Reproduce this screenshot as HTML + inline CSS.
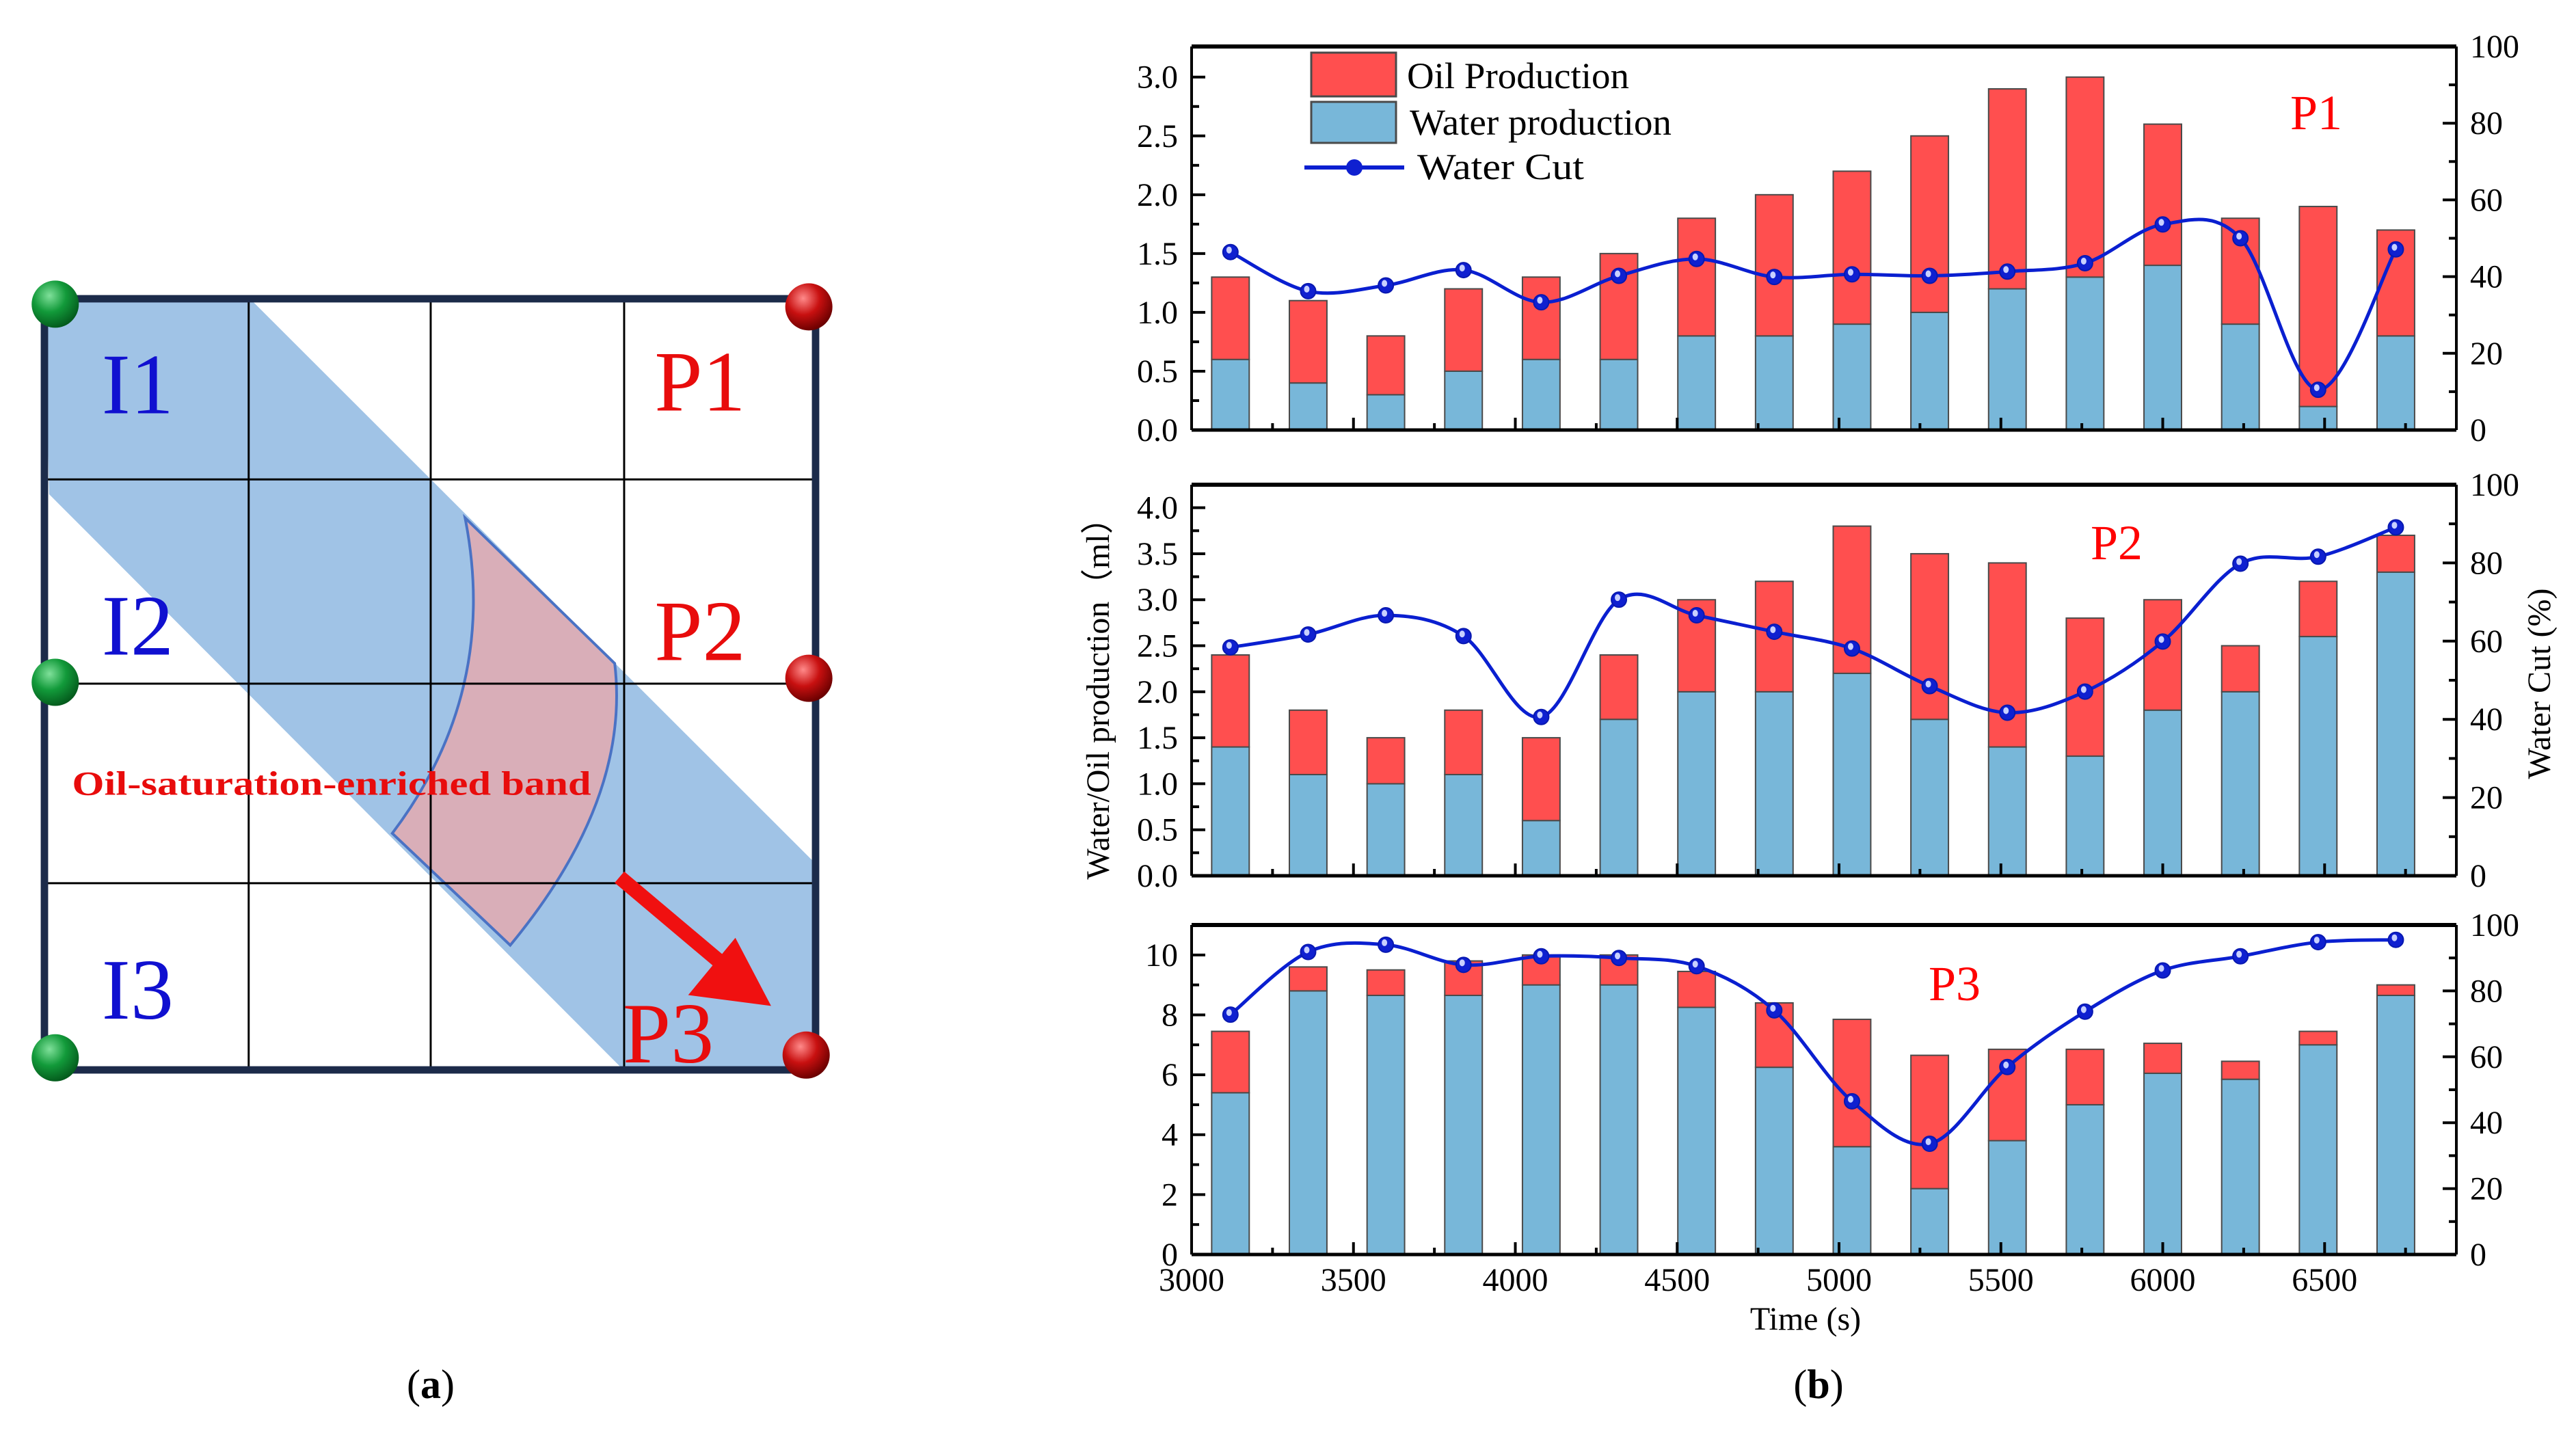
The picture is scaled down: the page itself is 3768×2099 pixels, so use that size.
<!DOCTYPE html>
<html><head><meta charset="utf-8">
<style>
html,body{margin:0;padding:0;background:#fff;}
svg{display:block;font-family:"Liberation Serif",serif;}
</style></head>
<body>
<svg id="fig" width="3768" height="2099" viewBox="0 0 3768 2099" xmlns="http://www.w3.org/2000/svg">
<rect width="3768" height="2099" fill="#fff"/>
<!-- Panel (a) -->
<g transform="translate(65,437) scale(0.986) translate(-65,-437)">
  <polygon points="65,441 374,441 1204,1270 1204,1580 923,1580 72,727" fill="#a0c3e6"/>
  <path d="M689,762 L911,978 Q935,1180 756,1396 L581,1230 Q740,1020 689,762 Z" fill="#d9aeb8" stroke="#4a72c4" stroke-width="4"/>
  <g stroke="#000" stroke-width="3">
    <line x1="368" y1="435" x2="368" y2="1583"/>
    <line x1="638" y1="435" x2="638" y2="1583"/>
    <line x1="925" y1="435" x2="925" y2="1583"/>
    <line x1="65" y1="705" x2="1211" y2="705"/>
    <line x1="65" y1="1008" x2="1211" y2="1008"/>
    <line x1="65" y1="1304" x2="1211" y2="1304"/>
  </g>
  <rect x="65" y="437" width="1144" height="1144" fill="none" stroke="#1c2b4a" stroke-width="11"/>
  <g>
    <line x1="918" y1="1295" x2="1090" y2="1440" stroke="#f01010" stroke-width="22"/>
    <polygon points="1143,1486 1020,1470 1090,1385" fill="#f01010"/>
  </g>
  <defs>
    <radialGradient id="gG" cx="0.38" cy="0.32" r="0.7"><stop offset="0" stop-color="#7fe09a"/><stop offset="0.5" stop-color="#129a3a"/><stop offset="1" stop-color="#045a1c"/></radialGradient>
    <radialGradient id="gR" cx="0.38" cy="0.32" r="0.7"><stop offset="0" stop-color="#ff8a8a"/><stop offset="0.5" stop-color="#c81010"/><stop offset="1" stop-color="#6a0000"/></radialGradient>
  </defs>
  <circle cx="81" cy="445" r="35" fill="url(#gG)"/>
  <circle cx="81" cy="1006" r="35" fill="url(#gG)"/>
  <circle cx="81" cy="1563" r="35" fill="url(#gG)"/>
  <circle cx="1199" cy="449" r="35" fill="url(#gR)"/>
  <circle cx="1199" cy="1000" r="35" fill="url(#gR)"/>
  <circle cx="1195" cy="1559" r="35" fill="url(#gR)"/>
  <g font-size="128">
    <text x="150" y="607" fill="#1010d0">I1</text>
    <text x="150" y="965" fill="#1010d0">I2</text>
    <text x="150" y="1505" fill="#1010d0">I3</text>
    <text x="970" y="603" fill="#e80c0c">P1</text>
    <text x="970" y="973" fill="#e80c0c">P2</text>
    <text x="923" y="1570" fill="#e80c0c">P3</text>
  </g>
  <text x="106" y="1173" font-size="50" font-weight="bold" fill="#e80c0c" textLength="770" lengthAdjust="spacingAndGlyphs">Oil-saturation-enriched band</text>
</g>
<text x="630" y="2045" font-size="60" text-anchor="middle">(<tspan font-weight="bold">a</tspan>)</text>
<text x="2660" y="2045" font-size="60" text-anchor="middle">(<tspan font-weight="bold">b</tspan>)</text>
<g id="chart"></g>
</svg>
<script>
const times = [3120,3360,3600,3840,4080,4320,4560,4800,5040,5280,5520,5760,6000,6240,6480,6720];
const p1Water = [0.6,0.4,0.3,0.5,0.6,0.6,0.8,0.8,0.9,1.0,1.2,1.3,1.4,0.9,0.2,0.8];
const p1Total = [1.3,1.1,0.8,1.2,1.3,1.5,1.8,2.0,2.2,2.5,2.9,3.0,2.6,1.8,1.9,1.7];
const p1Cut = [46.4,36.2,37.7,41.7,33.3,40.2,44.6,39.9,40.6,40.2,41.3,43.5,53.6,50,10.5,47.1];
const p2Water = [1.4,1.1,1.0,1.1,0.6,1.7,2.0,2.0,2.2,1.7,1.4,1.3,1.8,2.0,2.6,3.3];
const p2Total = [2.4,1.8,1.5,1.8,1.5,2.4,3.0,3.2,3.8,3.5,3.4,2.8,3.0,2.5,3.2,3.7];
const p2Cut = [58.4,61.7,66.6,61.3,40.6,70.6,66.6,62.4,58.1,48.5,41.7,47.1,59.9,79.8,81.6,89.1];
const p3Water = [5.4,8.8,8.65,8.65,9.0,9.0,8.25,6.25,3.6,2.2,3.8,5.0,6.05,5.85,7.0,8.65];
const p3Total = [7.45,9.6,9.5,9.8,10.0,10.0,9.45,8.4,7.85,6.65,6.85,6.85,7.05,6.45,7.45,9.0];
const p3Cut = [72.8,91.8,94,87.9,90.5,90,87.5,74.1,46.5,33.6,56.9,73.7,86.2,90.5,94.8,95.5];
const xTickLabels = ["3000","3500","4000","4500","5000","5500","6000","6500"];
const rightTickLabels = ["0","20","40","60","80","100"];
const p1TickLabels = ["0.0","0.5","1.0","1.5","2.0","2.5","3.0"];
const p2TickLabels = ["0.0","0.5","1.0","1.5","2.0","2.5","3.0","3.5","4.0"];
const p3TickLabels = ["0","2","4","6","8","10"];

const NS = "http://www.w3.org/2000/svg";
const root = document.getElementById('chart');
const XL = 1743, XR = 3593, TMIN = 3000, TMAX = 6907;
function xs(t){ return XL + (t - TMIN) / (TMAX - TMIN) * (XR - XL); }
function mk(tag, attrs, parent){
  const e = document.createElementNS(NS, tag);
  for (const k in attrs) e.setAttribute(k, attrs[k]);
  (parent || root).appendChild(e);
  return e;
}
function spline(pts){
  let d = "M" + pts[0][0] + "," + pts[0][1];
  for (let i = 0; i < pts.length - 1; i++){
    const p0 = pts[Math.max(0,i-1)], p1 = pts[i], p2 = pts[i+1], p3 = pts[Math.min(pts.length-1,i+2)];
    const c1x = p1[0] + (p2[0]-p0[0])/6, c1y = p1[1] + (p2[1]-p0[1])/6;
    const c2x = p2[0] - (p3[0]-p1[0])/6, c2y = p2[1] - (p3[1]-p1[1])/6;
    d += " C" + c1x + "," + c1y + " " + c2x + "," + c2y + " " + p2[0] + "," + p2[1];
  }
  return d;
}
function drawDot(g, x, y){
  const c = mk('circle', {cx:x, cy:y, r:11, fill:'#0f20d0', stroke:'#0818b0','stroke-width':2}, g);
  
  
  mk('ellipse', {cx:x-2, cy:y-3, rx:4, ry:5, fill:'#c8d0ff'}, g);
}
const panels = [
  {id:'p1', top:68, bot:629, ymax:3.26, step:0.5, labels:p1TickLabels, water:p1Water, total:p1Total, cut:p1Cut, name:'P1', nx:3350, ny:189},
  {id:'p2', top:709, bot:1281, ymax:4.25, step:0.5, labels:p2TickLabels, water:p2Water, total:p2Total, cut:p2Cut, name:'P2', nx:3058, ny:818},
  {id:'p3', top:1353, bot:1835, ymax:11, step:2, labels:p3TickLabels, water:p3Water, total:p3Total, cut:p3Cut, name:'P3', nx:2821, ny:1463}
];
panels.forEach((P, pi) => {
  const g = mk('g', {});
  
  
  const ys = v => P.bot - v / P.ymax * (P.bot - P.top);
  const yr = v => P.bot - v / 100 * (P.bot - P.top);
  const bw = xs(3116) - xs(3000);
  times.forEach((t, i) => {
    const x = xs(t) - bw/2;
    const wb = mk('rect', {x:x, y:ys(P.water[i]), width:bw, height:P.bot - ys(P.water[i]), fill:'#78b7d9', stroke:'#4a4a4a','stroke-width':2}, g);
    
    
    const ob = mk('rect', {x:x, y:ys(P.total[i]), width:bw, height:ys(P.water[i]) - ys(P.total[i]), fill:'#ff4f4f', stroke:'#4a4a4a','stroke-width':2}, g);
    
    
  });
  mk('line', {x1:XL, y1:P.top, x2:XR, y2:P.top, stroke:'#000','stroke-width':6}, g);
  mk('line', {x1:XL, y1:P.bot, x2:XR, y2:P.bot, stroke:'#000','stroke-width':5}, g);
  mk('line', {x1:XL, y1:P.top, x2:XL, y2:P.bot, stroke:'#000','stroke-width':4}, g);
  mk('line', {x1:XR, y1:P.top, x2:XR, y2:P.bot, stroke:'#000','stroke-width':4}, g);
  P.labels.forEach((lab, k) => {
    const v = k * P.step, y = ys(v);
    mk('line', {x1:XL, y1:y, x2:XL+20, y2:y, stroke:'#000','stroke-width':4}, g);
    const ym = ys(v + P.step/2);
    if (ym > P.top + 5) mk('line', {x1:XL, y1:ym, x2:XL+11, y2:ym, stroke:'#000','stroke-width':4}, g);
    const tx = mk('text', {x:XL-20, y:y+16, 'font-size':48, 'text-anchor':'end'}, g);
    tx.textContent = lab;
    
    
  });
  rightTickLabels.forEach((lab, k) => {
    const v = k * 20, y = yr(v);
    mk('line', {x1:XR, y1:y, x2:XR-20, y2:y, stroke:'#000','stroke-width':4}, g);
    if (v < 100) { const ym = yr(v+10); mk('line', {x1:XR, y1:ym, x2:XR-11, y2:ym, stroke:'#000','stroke-width':4}, g); }
    const tx = mk('text', {x:XR+20, y:y+16, 'font-size':48}, g);
    tx.textContent = lab;
    
    
  });
  for (let t = 3000; t <= 6900; t += 250){
    const major = t % 500 === 0;
    mk('line', {x1:xs(t), y1:P.bot, x2:xs(t), y2:P.bot - (major?18:10), stroke:'#000','stroke-width':4}, g);
  }
  const pts = times.map((t,i) => [xs(t), yr(P.cut[i])]);
  const ln = mk('path', {d:spline(pts), fill:'none', stroke:'#0a1fd0','stroke-width':5}, g);
  
  
  pts.forEach(p => drawDot(g, p[0], p[1]));
  const nm = mk('text', {x:P.nx, y:P.ny, 'font-size':72, fill:'#ff0000'}, g);
  nm.textContent = P.name;
  
  
  if (pi === 2){
    xTickLabels.forEach((lab, k) => {
      const tx = mk('text', {x:xs(3000 + 500*k), y:1888, 'font-size':48, 'text-anchor':'middle'}, g);
      tx.textContent = lab;
      
      
    });
  }
});
</script>
<svg style="position:absolute;left:0;top:0" width="3768" height="2099" viewBox="0 0 3768 2099">
  <g font-family="Liberation Serif, serif" font-size="54">
    <rect x="1918" y="77" width="124" height="64" fill="#ff4f4f" stroke="#4a4a4a" stroke-width="3"/>
    <text x="2058" y="129" textLength="325" lengthAdjust="spacingAndGlyphs">Oil Production</text>
    <rect x="1918" y="149" width="124" height="60" fill="#78b7d9" stroke="#4a4a4a" stroke-width="3"/>
    <text x="2062" y="197" textLength="383" lengthAdjust="spacingAndGlyphs">Water production</text>
    <line x1="1908" y1="245" x2="2054" y2="245" stroke="#0a1fd0" stroke-width="6"/>
    <circle cx="1981" cy="245" r="12" fill="#0f20d0"/>
    <text x="2073" y="262" textLength="244" lengthAdjust="spacingAndGlyphs">Water Cut</text>
  </g>
  <text font-family="Liberation Serif, serif" font-size="48" transform="translate(1622,1010) rotate(-90)" text-anchor="middle" textLength="553" lengthAdjust="spacingAndGlyphs">Water/Oil production（ml）</text>
  <text font-family="Liberation Serif, serif" font-size="48" transform="translate(3730,1000) rotate(-90)" text-anchor="middle" textLength="279" lengthAdjust="spacingAndGlyphs">Water Cut (%)</text>
  <text font-family="Liberation Serif, serif" font-size="48" x="2641" y="1945" text-anchor="middle">Time (s)</text>
</svg>
</body></html>
